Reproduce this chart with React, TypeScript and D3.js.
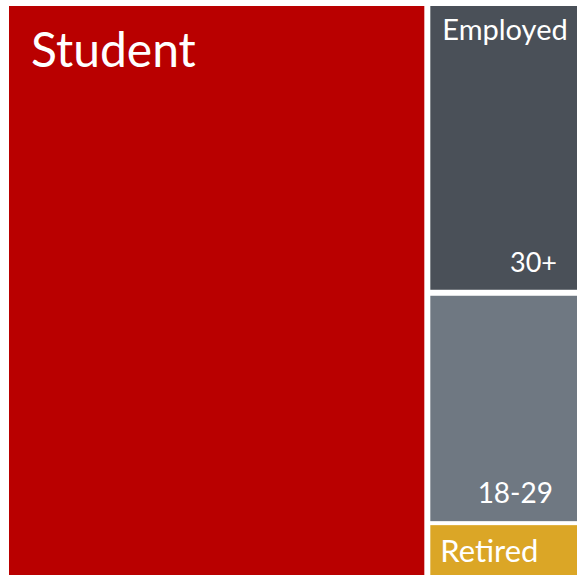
import React from "react";
import * as d3 from "d3";

// Data
const groups = ["Student", "Employed", "Retired"];
const employedAges = ["30+", "18-29"];
const employedValues = [13.4, 10.7];
const studentValue = 73.4;
const retiredValue = 2.5;

const colors: Record<string, string> = {
  Student: "#b90000",
  "30+": "#4a5058",
  "18-29": "#6f7882",
  Retired: "#dba626",
};

const W = 578;
const H = 577;
const left = 9;
const top = 6;
const innerW = 568;
const innerH = 569;

type N = { name: string; value?: number; children?: N[] };

export default function App() {
  const data: N = {
    name: "root",
    children: [
      { name: groups[0], value: studentValue },
      {
        name: "Others",
        children: [
          {
            name: groups[1],
            children: employedAges.map((a, i) => ({ name: a, value: employedValues[i] })),
          },
          { name: groups[2], value: retiredValue },
        ],
      },
    ],
  };

  const root = d3
    .hierarchy<N>(data)
    .sum((d) => d.value ?? 0);

  const tile = (node: any, x0: number, y0: number, x1: number, y1: number) => {
    if (node.depth === 0) d3.treemapDice(node, x0, y0, x1, y1);
    else d3.treemapSlice(node, x0, y0, x1, y1);
  };

  d3
    .treemap<N>()
    .size([innerW, innerH])
    .tile(tile as any)
    .paddingInner((n: any) => (n.data.name === "Others" ? 4 : 6))(root);

  const leaves = root.leaves() as any[];
  const employed = root.descendants().find((d) => d.data.name === "Employed") as any;
  const font = "Lato, 'DejaVu Sans', sans-serif";

  return (
    <svg width={W} height={H} style={{ position: "absolute", left: 0, top: 0 }}>
      <rect x={0} y={0} width={W} height={H} fill="#ffffff" />
      <g transform={`translate(${left},${top})`}>
        {leaves.map((d) => (
          <rect
            key={d.data.name}
            x={d.x0}
            y={d.y0}
            width={d.x1 - d.x0}
            height={d.y1 - d.y0}
            fill={colors[d.data.name]}
          />
        ))}
        {leaves.map((d) => {
          const name = d.data.name;
          if (name === "Student")
            return (
              <text key="t-s" x={d.x0 + 22} y={d.y0 + 61} fill="#fff" fontSize={48} fontFamily={font}>
                {name}
              </text>
            );
          if (name === "Retired")
            return (
              <text key="t-r" x={d.x0 + 10} y={d.y0 + 37} fill="#fff" fontSize={31} fontFamily={font}>
                {name}
              </text>
            );
          return (
            <text
              key={"t-" + name}
              x={d.x1 - 20 - (name === "18-29" ? 4 : 0)}
              y={d.y1 - 18}
              fill="#fff"
              fontSize={name === "18-29" ? 28 : 27}
              fontFamily={font}
              textAnchor="end"
            >
              {name}
            </text>
          );
        })}
        {employed && (
          <text x={employed.x0 + 12} y={employed.y0 + 34} fill="#fff" fontSize={29} fontFamily={font}>
            Employed
          </text>
        )}
      </g>
    </svg>
  );
}
